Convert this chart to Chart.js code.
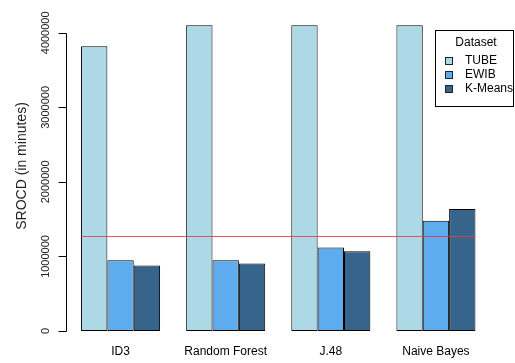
<!DOCTYPE html>
<html>
<head>
<meta charset="utf-8">
<script src="https://cdn.jsdelivr.net/npm/chart.js@4"></script>
<style>
    html, body { margin: 0; padding: 0; background: #ffffff; }
    #wrap { width: 515px; height: 363px; }
</style>
</head>
<body>
<div id="wrap"><canvas id="main-chart" width="515" height="363"></canvas></div>
<script>
// ==================== DATOS ====================
const categories = ['ID3', 'Random Forest', 'J.48', 'Naive Bayes'];
const tubeValues = [3820000, 4100000, 4100000, 4100000];
const ewibValues = [950000, 950000, 1120000, 1480000];
const kmeansValues = [880000, 905000, 1070000, 1635000];
const yTicks = [0, 1000000, 2000000, 3000000, 4000000];
const thresholdValue = 1275000;

const seriesNames = ['TUBE', 'EWIB', 'K-Means'];
const seriesColors = ['#ADD8E6', '#5CACEE', '#36648B'];
const FONT = '"Liberation Sans", Arial, sans-serif';

/**
 * Ejes, linea roja y leyenda dibujados con las escalas del grafico
 */
const rBasePlugin = {
    id: 'rBase',
    afterDatasetsDraw(chart) {
        const ctx = chart.ctx;
        const x = chart.scales.x;
        const y = chart.scales.y;
        ctx.save();

        // linea horizontal roja (umbral)
        const first = chart.getDatasetMeta(0).data[0];
        const lastMeta = chart.getDatasetMeta(2).data;
        const last = lastMeta[lastMeta.length - 1];
        const yl = Math.round(y.getPixelForValue(thresholdValue)) + 0.5;
        ctx.strokeStyle = 'rgba(225, 60, 75, 0.85)';
        ctx.lineWidth = 1;
        ctx.beginPath();
        ctx.moveTo(first.x - first.width / 2, yl);
        ctx.lineTo(last.x + last.width / 2, yl);
        ctx.stroke();

        // eje Y
        const axisX = 66.5;
        ctx.strokeStyle = '#000';
        ctx.beginPath();
        ctx.moveTo(axisX, Math.round(y.getPixelForValue(yTicks[0])) + 0.5);
        ctx.lineTo(axisX, Math.round(y.getPixelForValue(yTicks[yTicks.length - 1])) + 0.5);
        yTicks.forEach(v => {
            const py = Math.round(y.getPixelForValue(v)) + 0.5;
            ctx.moveTo(axisX, py);
            ctx.lineTo(axisX - 8, py);
        });
        ctx.stroke();

        ctx.fillStyle = '#222';
        ctx.font = '11px ' + FONT;
        ctx.textAlign = 'center';
        ctx.textBaseline = 'middle';
        yTicks.forEach(v => {
            const py = y.getPixelForValue(v);
            ctx.save();
            ctx.translate(46, py);
            ctx.rotate(-Math.PI / 2);
            ctx.fillText(String(v), 0, 0);
            ctx.restore();
        });

        // titulo eje Y
        ctx.font = '14px ' + FONT;
        ctx.save();
        ctx.translate(22, 166);
        ctx.rotate(-Math.PI / 2);
        ctx.fillText('SROCD (in minutes)', 0, 0);
        ctx.restore();

        // etiquetas eje X
        ctx.font = '12px ' + FONT;
        ctx.fillStyle = '#000';
        categories.forEach((c, i) => {
            ctx.fillText(c, x.getPixelForValue(i), 352);
        });

        // leyenda
        ctx.fillStyle = '#fff';
        ctx.fillRect(435, 30, 79, 76);
        ctx.strokeStyle = '#000';
        ctx.strokeRect(435.5, 30.5, 78, 76);
        ctx.fillStyle = '#000';
        ctx.font = '12px ' + FONT;
        ctx.textAlign = 'center';
        ctx.fillText('Dataset', 476, 43);
        ctx.textAlign = 'left';
        const rows = [61, 75, 89];
        seriesNames.forEach((n, i) => {
            ctx.fillStyle = seriesColors[i];
            ctx.fillRect(445, rows[i] - 4, 8, 8);
            ctx.strokeStyle = '#222';
            ctx.strokeRect(445.5, rows[i] - 3.5, 7, 7);
            ctx.fillStyle = '#000';
            ctx.fillText(n, 465, rows[i]);
        });

        ctx.restore();
    }
};

function makeDataset(label, data, color) {
    return {
        label: label,
        data: data,
        backgroundColor: color,
        borderColor: '#000',
        borderWidth: 1,
        borderSkipped: false,
        barPercentage: 1.0,
        categoryPercentage: 0.752
    };
}

new Chart(document.getElementById('main-chart'), {
    type: 'bar',
    data: {
        labels: categories,
        datasets: [
            makeDataset(seriesNames[0], tubeValues, seriesColors[0]),
            makeDataset(seriesNames[1], ewibValues, seriesColors[1]),
            makeDataset(seriesNames[2], kmeansValues, seriesColors[2])
        ]
    },
    options: {
        responsive: false,
        animation: false,
        layout: {
            padding: { left: 68, right: 26.5, top: 3, bottom: 32 }
        },
        plugins: {
            legend: { display: false },
            tooltip: { enabled: false }
        },
        scales: {
            x: { display: false, offset: true },
            y: { display: false, min: 0, max: 4400000 }
        }
    },
    plugins: [rBasePlugin]
});
</script>
</body>
</html>
